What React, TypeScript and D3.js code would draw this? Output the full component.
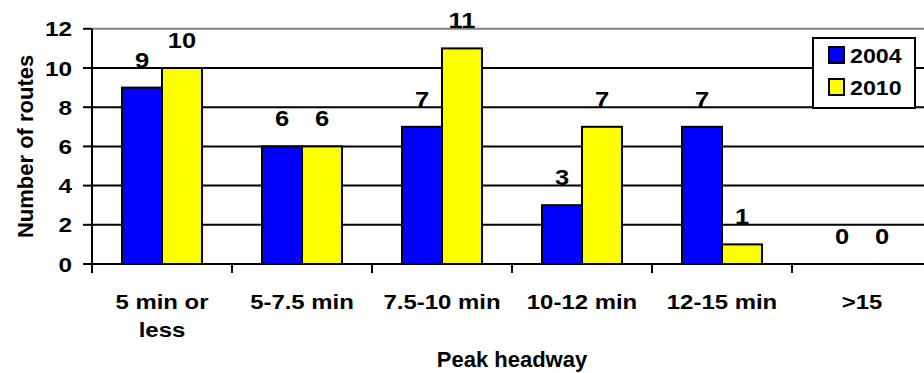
import React from "react";
import * as d3 from "d3";

const categories = ["5 min or less", "5-7.5 min", "7.5-10 min", "10-12 min", "12-15 min", ">15"];
const categoryLines = [["5 min or", "less"], ["5-7.5 min"], ["7.5-10 min"], ["10-12 min"], ["12-15 min"], [">15"]];
const seriesNames = ["2004", "2010"];
const values2004 = [9, 6, 7, 3, 7, 0];
const values2010 = [10, 6, 11, 7, 1, 0];
const seriesColors = ["#0000FF", "#FFFF00"];
const yTicks = [0, 2, 4, 6, 8, 10, 12];

const W = 924, H = 373;
const left = 92, right = 932, top = 28.8, bottom = 264;
const FONT = "'Liberation Sans', Arial, Helvetica, sans-serif";
const SX = 1.16;

function SText({ x, y, size, anchor = "middle", children, sx = SX }: any) {
  return (
    <text transform={`translate(${x},${y}) scale(${sx},1)`} textAnchor={anchor} fontSize={size}>{children}</text>
  );
}

export default function App() {
  const x = d3.scaleBand<string>().domain(categories).range([left, right]).paddingInner(0).paddingOuter(0);
  const xs = d3.scaleBand<string>().domain(seriesNames).range([0, x.bandwidth()]).paddingInner(0).paddingOuter(0.75);
  const y = d3.scaleLinear().domain([0, 12]).range([bottom, top]);
  const series = [values2004, values2010];

  return (
    <svg width={W} height={H} style={{ position: "absolute", left: 0, top: 0, background: "#fff" }} fontFamily={FONT} fontWeight="bold">
      <rect x={0} y={0} width={W} height={H} fill="#fff" />
      {yTicks.filter((t) => t > 0 && t < 12).map((t) => (
        <line key={t} x1={left} x2={right} y1={y(t)} y2={y(t)} stroke="#000" strokeWidth={2} />
      ))}
      <line x1={left} x2={right} y1={y(12)} y2={y(12)} stroke="#808080" strokeWidth={2} />
      {categories.map((c, i) => (
        <g key={c}>
          {series.map((vals, s) => {
            const bx = (x(c) as number) + (xs(seriesNames[s]) as number);
            const by = y(vals[i]);
            return vals[i] > 0 ? (
              <rect key={s} x={bx} y={by} width={xs.bandwidth()} height={bottom - by} fill={seriesColors[s]} stroke="#000" strokeWidth={2} />
            ) : null;
          })}
        </g>
      ))}
      <line x1={left} x2={left} y1={top} y2={bottom} stroke="#000" strokeWidth={2} />
      <line x1={left - 9} x2={right} y1={bottom} y2={bottom} stroke="#000" strokeWidth={2} />
      {yTicks.map((t) => (
        <g key={t}>
          <line x1={left - 9} x2={left} y1={y(t)} y2={y(t)} stroke="#000" strokeWidth={2} />
          <SText x={72} y={y(t) + 7.5} size={21} anchor="end">{t}</SText>
        </g>
      ))}
      {categories.map((c) => (
        <line key={c} x1={x(c) as number} x2={x(c) as number} y1={bottom} y2={bottom + 9} stroke="#000" strokeWidth={2} />
      ))}
      {categories.map((c, i) => (
        <g key={"v" + c}>
          {series.map((vals, s) => {
            const cx = (x(c) as number) + (xs(seriesNames[s]) as number) + xs.bandwidth() / 2;
            return (
              <SText key={s} x={cx} y={y(vals[i]) - 20} size={22}>{vals[i]}</SText>
            );
          })}
        </g>
      ))}
      {categories.map((c, i) => (
        <g key={"l" + c}>
          {categoryLines[i].map((ln, k) => (
            <SText key={k} x={(x(c) as number) + x.bandwidth() / 2} y={309 + k * 28} size={21} sx={1.14}>{ln}</SText>
          ))}
        </g>
      ))}
      <text x={(left + right) / 2} y={367} textAnchor="middle" fontSize={22}>Peak headway</text>
      <text transform={`translate(33, ${(top + bottom) / 2}) rotate(-90)`} textAnchor="middle" fontSize={22}>Number of routes</text>
      <rect x={813} y={38} width={102} height={70} fill="#fff" stroke="#000" strokeWidth={2} />
      {seriesNames.map((n, s) => (
        <g key={n}>
          <rect x={829} y={47 + s * 32} width={15} height={16} fill={seriesColors[s]} stroke="#000" strokeWidth={2} />
          <SText x={850} y={63 + s * 32} size={20} anchor="start">{n}</SText>
        </g>
      ))}
    </svg>
  );
}
